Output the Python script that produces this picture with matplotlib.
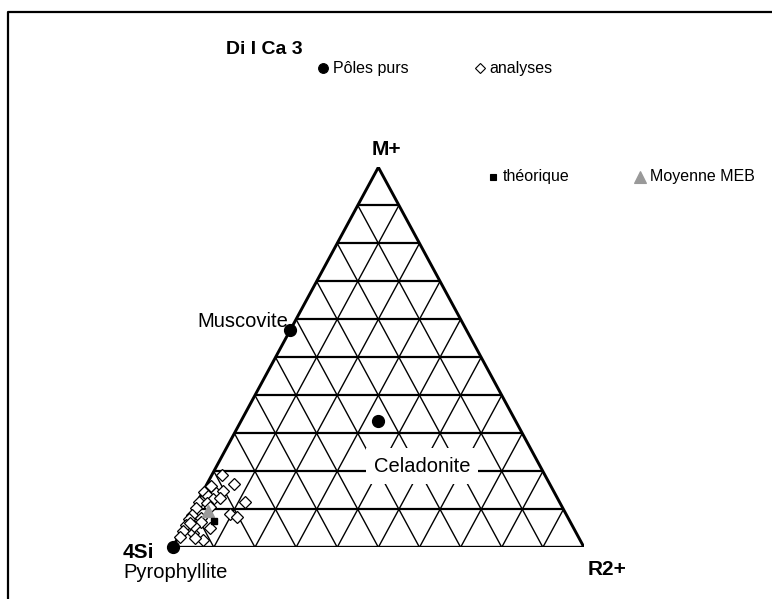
import matplotlib
matplotlib.use("Agg")
import matplotlib.pyplot as plt
from matplotlib.lines import Line2D
import numpy as np

plt.rcParams['font.family'] = ['Liberation Sans', 'DejaVu Sans']

# ---------------- data (ternary fractions: M+ , R2+ ; 4Si = 1 - M+ - R2+) -------------
title = "Di I Ca 3"
vertex_labels = ["M+", "4Si", "R2+"]
pole_names = ["Pyrophyllite", "Muscovite", "Celadonite"]
pole_m = [0.0, 0.571, 0.333]
pole_r = [0.0, 0.0, 0.333]

analyses_m = [0.190, 0.167, 0.161, 0.146, 0.144, 0.149, 0.135, 0.126, 0.120, 0.129,
              0.120, 0.103, 0.116, 0.088, 0.079, 0.085, 0.074, 0.076, 0.059, 0.050,
              0.044, 0.037, 0.026, 0.019, 0.067, 0.056, 0.107, 0.063, 0.024]
analyses_r = [0.024, 0.066, 0.012, 0.004, 0.033, 0.049, 0.019, 0.036, 0.005, 0.050,
              0.116, 0.005, 0.025, 0.095, 0.118, 0.004, 0.003, 0.032, 0.002, 0.066,
              0.003, 0.032, 0.005, 0.065, 0.036, 0.025, 0.037, 0.011, 0.042]

theo_m = [0.070]
theo_r = [0.065]
meb_m = [0.096]
meb_r = [0.038]

legend_labels = ["Pôles purs", "analyses", "théorique", "Moyenne MEB"]
n_div = 10

# ---------------- figure ----------------
W, H = 772, 599
fig = plt.figure(figsize=(W / 100, H / 100), dpi=100)

# triangle placed in pixels: left vertex, right vertex, top height
x0, x1, yb, yt = 172.7, 584.0, 547.3, 167.3
ax = fig.add_axes([x0 / W, (H - yb) / H, (x1 - x0) / W, (yb - yt) / H])
ax.set_xlim(0, 1)
ax.set_ylim(0, 1)
ax.axis("off")


def tern(m, r):
    m = np.asarray(m, float)
    r = np.asarray(r, float)
    return r + m / 2.0, m


# grid
for k in range(1, n_div):
    f = k / n_div
    # horizontal (constant M+)
    xa, ya = tern(f, 0)
    xb, yb_ = tern(f, 1 - f)
    ax.plot([xa, xb], [ya, yb_], color="black", lw=1.6, solid_capstyle="butt", zorder=1)
    # constant R2+
    xa, ya = tern(0, f)
    xb, yb_ = tern(1 - f, f)
    ax.plot([xa, xb], [ya, yb_], color="black", lw=1.0, zorder=1)
    # constant 4Si
    xa, ya = tern(0, 1 - f)
    xb, yb_ = tern(1 - f, 0)
    ax.plot([xa, xb], [ya, yb_], color="black", lw=1.0, zorder=1)

# outline
tx, ty = tern([0, 0, 1, 0], [0, 1, 0, 0])
ax.plot(tx, ty, color="black", lw=2.1, zorder=2, solid_joinstyle="miter")

# points
ax_x, ax_y = tern(analyses_m, analyses_r)
ax.plot(ax_x, ax_y, ls="none", marker="D", ms=6.3, mfc="white", mec="black",
        mew=0.9, zorder=4, clip_on=False)
px, py = tern(pole_m, pole_r)
ax.plot(px, py, ls="none", marker="o", ms=8.5, color="black", zorder=6, clip_on=False)
mx, my = tern(meb_m, meb_r)
ax.plot(mx, my, ls="none", marker="^", ms=8.5, color="#999999", zorder=5, clip_on=False)
sx, sy = tern(theo_m, theo_r)
ax.plot(sx, sy, ls="none", marker="s", ms=5, color="black", zorder=5, clip_on=False)


def ftext(x, y, s, **kw):
    fig.text(x / W, 1 - y / H, s, **kw)


# labels
ftext(264.5, 50, title, ha="center", va="center", fontsize=14, fontweight="bold")
ftext(386, 155, vertex_labels[0], ha="center", va="baseline", fontsize=15, fontweight="bold")
ftext(123, 558, vertex_labels[1], ha="left", va="baseline", fontsize=15, fontweight="bold")
ftext(123, 578, pole_names[0], ha="left", va="baseline", fontsize=14.5)
ftext(588, 575, vertex_labels[2], ha="left", va="baseline", fontsize=15, fontweight="bold")
ftext(288, 327, pole_names[1], ha="right", va="baseline", fontsize=14.5)
ftext(422, 466, pole_names[2], ha="center", va="center", fontsize=14.5,
      bbox=dict(boxstyle="square,pad=0.4", fc="white", ec="none"), zorder=10)

# legend (symbol + text)
leg_items = [
    (323, 68, "o", 7, "black", "black", legend_labels[0]),
    (479.5, 68, "D", 5, "white", "black", legend_labels[1]),
    (493, 176.7, "s", 4.5, "black", "black", legend_labels[2]),
    (640, 176.7, "^", 8, "#999999", "#999999", legend_labels[3]),
]
for (lx, ly, mk, ms, fc, ec, lab) in leg_items:
    fig.add_artist(Line2D([lx / W], [1 - ly / H], marker=mk, ms=ms, mfc=fc, mec=ec,
                          mew=0.8, ls="none", transform=fig.transFigure))
    ftext(lx + 10, ly, lab, ha="left", va="center", fontsize=11.5)

# frame (partially visible)
fig.add_artist(Line2D([8 / W, 8 / W, 1.0], [0.0, 1 - 12 / H, 1 - 12 / H],
                      color="black", lw=1.6, transform=fig.transFigure))

fig.savefig("out.png", dpi=100)
